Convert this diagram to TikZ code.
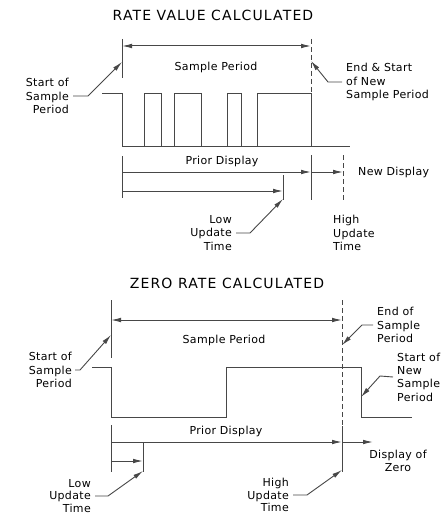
\documentclass[tikz,border=0pt]{standalone}
\usepackage{fontspec}
\newfontfamily\cadfont[LetterSpace=3]{DejaVu Sans}
\newfontfamily\cadtitle[LetterSpace=8]{DejaVu Sans}
\usetikzlibrary{arrows.meta}

\begin{document}
\begin{tikzpicture}[
  x=1pt, y=-1pt,
  ln/.style    = {draw=black!72, line width=1pt},
  dsh/.style   = {draw=black!72, line width=1pt, dash pattern=on 5pt off 3pt},
  arr/.style   = {draw=black!72, line width=1pt, -{Latex[length=10pt,width=4.6pt]}},
  dimln/.style = {draw=black!72, line width=1pt,
                  {Latex[length=10pt,width=4.6pt]}-{Latex[length=10pt,width=4.6pt]}},
  ldr/.style   = {draw=black!72, line width=0.9pt, -{Latex[length=10pt,width=4.6pt]}},
  ttl/.style   = {font=\cadtitle\fontsize{14}{16}\selectfont, inner sep=0pt},
  lbl/.style   = {font=\cadfont\fontsize{11}{13.3}\selectfont, inner sep=0pt},
  lblb/.style  = {font=\cadfont\fontsize{11}{12.4}\selectfont, inner sep=0pt},
]
\useasboundingbox (0,0) rectangle (445,516);

% rate value calculated
\begin{scope}
  \node[ttl] (t1) at (213,15) {RATE VALUE CALCULATED};

  \coordinate (s1)  at (122,39);
  \coordinate (s1b) at (122,78);
  \coordinate (e1)  at (311,39);
  \coordinate (e1b) at (311,92);
  \draw[ln]  (s1)--(s1b);
  \draw[dsh] (e1)--(e1b);

  \coordinate (d1l) at (122,46);
  \coordinate (d1r) at (311,46);
  \draw[dimln] (d1l)--(d1r);
  \node[lbl] (sp1) at (216,67) {Sample Period};

  \node[lbl, anchor=east, align=right] (st1) at (69,96) {Start of\\Sample\\Period};
  \coordinate (st1k) at (88,96);
  \coordinate (st1t) at (122,62);
  \draw[ldr] ([xshift=4]st1.east) -- (st1k) -- (st1t);

  \node[lbl, anchor=west, align=left] (en1) at (346,82)
    {End \& Start\\of New\\Sample Period};
  \coordinate (en1k) at (328,82);
  \coordinate (en1t) at (311,61);
  \draw[ldr] ([xshift=-4]en1.west) -- (en1k) -- (en1t);

  \draw[ln] (102,94) -- (122,94) -- (122,146) -- (350,146);
  \foreach \a/\b in {144/161, 174/201, 227/241, 257/311}{
    \draw[ln] (\a,146) -- (\a,94) -- (\b,94) -- (\b,146);
  }

  \coordinate (p1a) at (122,156);
  \coordinate (p1b) at (122,198);
  \coordinate (h1a) at (311,155);
  \coordinate (h1b) at (311,200);
  \coordinate (n1a) at (343,155);
  \coordinate (n1b) at (343,200);
  \coordinate (l1a) at (283,175);
  \coordinate (l1b) at (283,200);
  \draw[ln]  (p1a)--(p1b);
  \draw[ln]  (h1a)--(h1b);
  \draw[dsh] (n1a)--(n1b);
  \draw[ln]  (l1a)--(l1b);

  \node[lbl] (pd1) at (222,161) {Prior Display};
  \coordinate (a1) at (122,172);
  \coordinate (a2) at (311,172);
  \coordinate (a3) at (343,172);
  \draw[arr] (a1)--(a2);
  \draw[arr] (a2)--(a3);
  \node[lbl, anchor=west] (nd1) at (358,172) {New Display};

  \coordinate (b1) at (122,191);
  \coordinate (b2) at (283,191);
  \draw[arr] (b1)--(b2);

  \node[lbl, anchor=east, align=right] (lu1) at (232,233) {Low\\Update\\Time};
  \coordinate (lu1k) at (250,233);
  \coordinate (lu1t) at (283,199);
  \draw[ldr] ([xshift=4]lu1.east) -- (lu1k) -- (lu1t);

  \node[lbl, anchor=west, align=left] (hu1) at (333,233) {High\\Update\\Time};
\end{scope}

% zero rate calculated
\begin{scope}
  \node[ttl] (t2) at (227,283) {ZERO RATE CALCULATED};

  \coordinate (s2)  at (111,300);
  \coordinate (s2b) at (111,358);
  \coordinate (e2)  at (342,300);
  \coordinate (e2b) at (342,426);
  \coordinate (e2c) at (342,472);
  \draw[ln]  (s2)--(s2b);
  \draw[dsh] (e2)--(e2b);
  \draw[ln]  (e2b)--(e2c);

  \coordinate (d2l) at (111,320);
  \coordinate (d2r) at (342,320);
  \draw[dimln] (d2l)--(d2r);
  \node[lbl] (sp2) at (224,340) {Sample Period};

  \node[lbl, anchor=east, align=right] (st2) at (72,370) {Start of\\Sample\\Period};
  \coordinate (st2k) at (80,370);
  \coordinate (st2t) at (111,335);
  \draw[ldr] ([xshift=3]st2.east) -- (st2k) -- (st2t);

  \node[lbl, anchor=west, align=left] (en2) at (377,325) {End of\\Sample\\Period};
  \coordinate (en2k) at (362,325);
  \coordinate (en2t) at (342,345);
  \draw[ldr] ([xshift=-4]en2.west) -- (en2k) -- (en2t);

  \node[lbl, anchor=west, align=left] (ns2) at (397,377) {Start of\\New\\Sample\\Period};
  \coordinate (ns2k) at (380,376);
  \coordinate (ns2t) at (361,397);
  \draw[ldr] ([xshift=-4]ns2.west) -- (ns2k) -- (ns2t);

  \draw[ln] (92,367) -- (111,367) -- (111,417) -- (226,417) -- (226,367)
    -- (361,367) -- (361,417) -- (412,417);

  \coordinate (p2a) at (111,425);
  \coordinate (p2b) at (111,472);
  \coordinate (l2a) at (143,442);
  \coordinate (l2b) at (143,472);
  \draw[ln] (p2a)--(p2b);
  \draw[ln] (l2a)--(l2b);

  \node[lbl] (pd2) at (226,431) {Prior Display};
  \coordinate (a4) at (111,442);
  \coordinate (a5) at (342,442);
  \coordinate (a6) at (373,442);
  \draw[arr] (a4)--(a5);
  \draw[arr] (a5)--(a6);

  \coordinate (b3) at (111,461);
  \coordinate (b4) at (143,461);
  \draw[arr] (b3)--(b4);

  \node[lbl, align=center] (dz2) at (398,461) {Display of\\Zero};

  \node[lblb, anchor=east, align=right] (lu2) at (91,496) {Low\\Update\\Time};
  \coordinate (lu2k) at (108,496);
  \coordinate (lu2t) at (143,471);
  \draw[ldr] ([xshift=4]lu2.east) -- (lu2k) -- (lu2t);

  \node[lblb, anchor=east, align=right] (hu2) at (289,495) {High\\Update\\Time};
  \coordinate (hu2k) at (307,495);
  \coordinate (hu2t) at (342,470);
  \draw[ldr] ([xshift=4]hu2.east) -- (hu2k) -- (hu2t);
\end{scope}

\end{tikzpicture}
\end{document}
